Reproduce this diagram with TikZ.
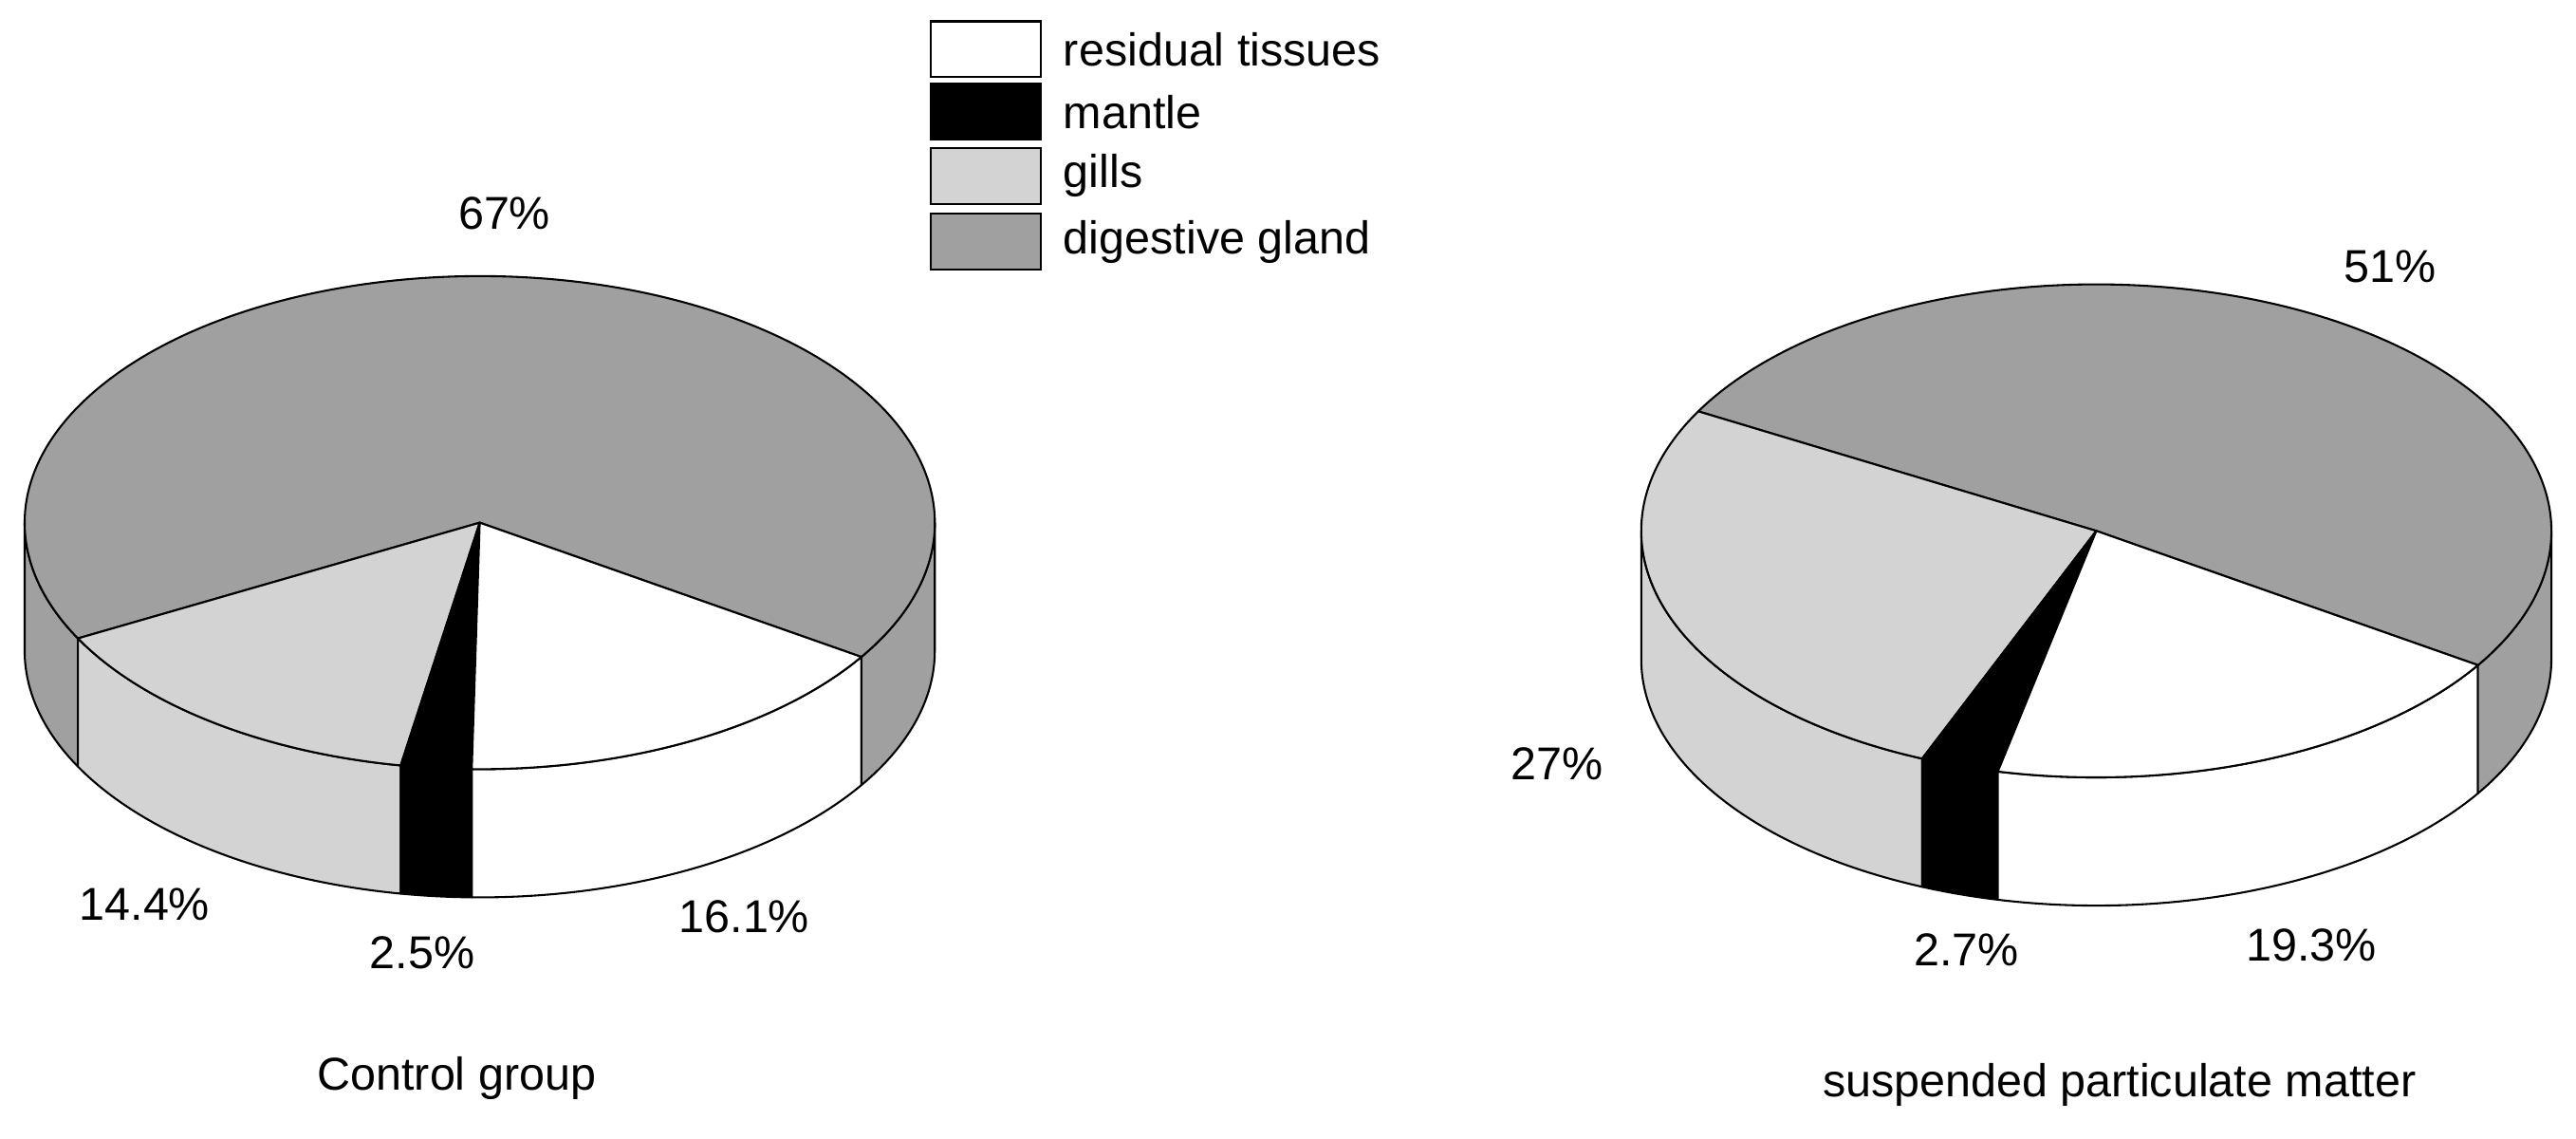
\documentclass[tikz,border=0pt]{standalone}
\usepackage{fontspec}
\setmainfont{Liberation Sans}
\definecolor{dg}{HTML}{A0A0A0}
\definecolor{lg}{HTML}{D3D3D3}
\newcommand\mytop[3]{\filldraw[fill=#3,pie] (0,0) -- (#1:277 and 150) arc[start angle=#1,end angle=#2,x radius=277,y radius=150] -- cycle;}
\newcommand\myside[3]{\filldraw[fill=#3,pie] (#1:277 and 150) arc[start angle=#1,end angle=#2,x radius=277,y radius=150] -- ++(0,-78) arc[start angle=#2,end angle=#1,x radius=277,y radius=150] -- cycle;}
\begin{document}
\begin{tikzpicture}[x=0.5pt,y=0.5pt,pie/.style={draw=black,line width=0.6pt,line join=round},
 lab/.style={font=\fontsize{14}{16}\selectfont,inner sep=0pt},
 lbox/.style={draw=black,line width=0.6pt,minimum width=33.5pt,minimum height=17pt,inner sep=0pt}]
\useasboundingbox (0,0) rectangle (1568,-693);
\begin{scope}[shift={(292,-318)}]
\myside{-180}{-152}{dg}
\myside{-152}{-100}{lg}
\myside{-100}{-91}{black}
\myside{-91}{-33}{white}
\myside{-33}{0}{dg}
\mytop{-33}{208}{dg}
\mytop{-152}{-100}{lg}
\mytop{-100}{-91}{black}
\mytop{-91}{-33}{white}
\end{scope}
\begin{scope}[shift={(1276,-323)}]
\myside{-180}{-112.5}{lg}
\myside{-112.5}{-102.5}{black}
\myside{-102.5}{-33}{white}
\myside{-33}{0}{dg}
\mytop{-33}{151}{dg}
\mytop{151}{247.5}{lg}
\mytop{-112.5}{-102.5}{black}
\mytop{-102.5}{-33}{white}
\end{scope}
\node[lab] (p1) at (307,-130) {67\%};
\node[lab] (p2) at (88,-550) {14.4\%};
\node[lab] (p3) at (257,-580) {2.5\%};
\node[lab] (p4) at (453,-558) {16.1\%};
\node[lab] (t1) at (278,-656) {Control group};
\node[lab] (q1) at (1455,-162) {51\%};
\node[lab] (q2) at (948,-465) {27\%};
\node[lab] (q3) at (1197,-578) {2.7\%};
\node[lab] (q4) at (1407,-575) {19.3\%};
\node[lab] (t2) at (1290,-660) {suspended particulate matter};
\node[lbox,fill=white] (b1) at (600,-30) {};
\node[lbox,fill=black] (b2) at (600,-68) {};
\node[lbox,fill=lg] (b3) at (600,-107) {};
\node[lbox,fill=dg] (b4) at (600,-147) {};
\node[lab,anchor=west] (l1) at (647,-30) {residual tissues};
\node[lab,anchor=west] (l2) at (647,-68) {mantle};
\node[lab,anchor=west] (l3) at (647,-107) {gills};
\node[lab,anchor=west] (l4) at (647,-147) {digestive gland};
\end{tikzpicture}
\end{document}
